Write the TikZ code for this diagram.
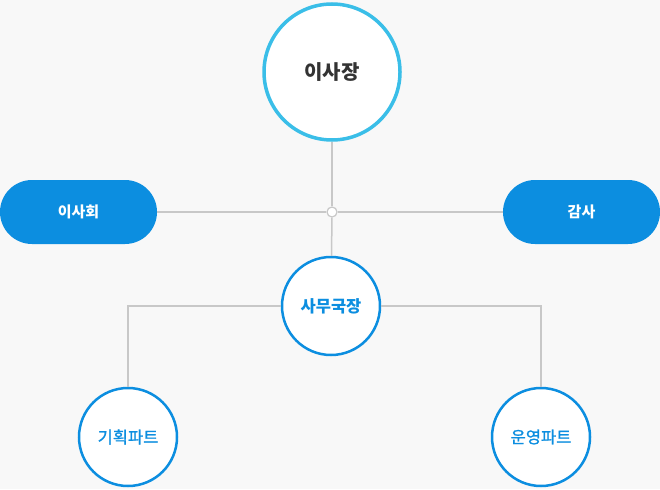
\documentclass[tikz,border=0pt]{standalone}
\usepackage{fontspec}
\newfontfamily\kr{Noto Sans CJK KR}
\newfontfamily\krmid[FakeBold=1.2]{Noto Sans CJK KR}
\definecolor{bgGray}{RGB}{248,248,248}
\definecolor{lineGray}{RGB}{200,200,200}
\definecolor{ringCyan}{RGB}{58,190,232}
\definecolor{mainBlue}{RGB}{12,142,224}
\definecolor{darkText}{RGB}{51,51,51}
\tikzset{
	head/.style={circle, draw=ringCyan, line width=3.5pt, fill=white, minimum size=136pt, inner sep=0pt, font=\kr\bfseries\fontsize{20}{24}\selectfont, text=darkText},
	pill/.style={rectangle, rounded corners=32pt, fill=mainBlue, minimum width=157pt, minimum height=64pt, inner sep=0pt, font=\kr\bfseries\fontsize{15}{18}\selectfont, text=white},
	office/.style={circle, draw=mainBlue, line width=2.5pt, fill=white, minimum size=98pt, inner sep=0pt, font=\kr\bfseries\fontsize{16.5}{20}\selectfont, text=mainBlue},
	part/.style={circle, draw=mainBlue, line width=2.5pt, fill=white, minimum size=98pt, inner sep=0pt, font=\krmid\fontsize{16.5}{20}\selectfont, text=mainBlue},
	link/.style={draw=lineGray, line width=1.5pt},
	joint/.style={circle, draw=lineGray, line width=1.2pt, fill=white, minimum size=10pt, inner sep=0pt}
}
\begin{document}
\begin{tikzpicture}[x=1pt,y=1pt,yscale=-1,xscale=1]
	%background
	\fill[bgGray] (0,0) rectangle (660,489);
	\useasboundingbox (0,0) rectangle (660,489);

	% Nodes
	\node[head] (chair) at (332,72) {이사장};
	\node[joint] (hub) at (332,212) {};
	\node[pill] (board) at (78.5,212) {이사회};
	\node[pill] (audit) at (581.5,212) {감사};
	\node[office] (secretary) at (331,306) {사무국장};
	\node[part] (planning) at (128,437) {기획파트};
	\node[part] (operation) at (541,437) {운영파트};

	% Lines
	\draw[link] (chair) -- (hub);
	\draw[link] (hub) -- (secretary);
	\draw[link] (board) -- (hub);
	\draw[link] (hub) -- (audit);
	\draw[link] (secretary.west) -| (planning.north);
	\draw[link] (secretary.east) -| (operation.north);
\end{tikzpicture}
\end{document}
